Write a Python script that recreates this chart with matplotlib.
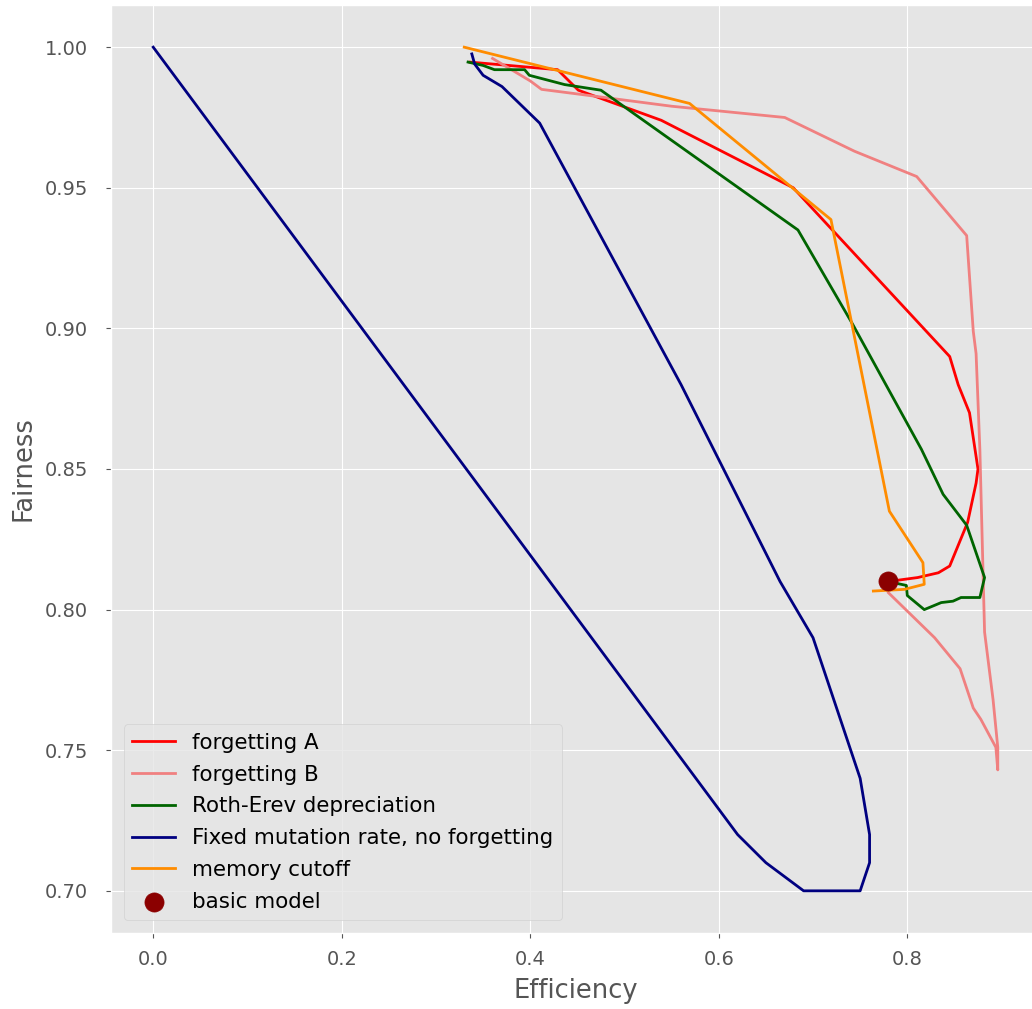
import matplotlib
matplotlib.use("Agg")
import matplotlib.pyplot as plt

plt.style.use("ggplot")

# ---- data (efficiency, fairness) ----
fa_x = [0.336, 0.429, 0.451, 0.539, 0.679, 0.845, 0.854, 0.866, 0.875, 0.873,
        0.864, 0.845, 0.833, 0.811, 0.78]
fa_y = [0.9947, 0.992, 0.9847, 0.974, 0.950, 0.890, 0.880, 0.870, 0.850, 0.845,
        0.831, 0.8155, 0.8131, 0.8114, 0.810]

fb_x = [0.36, 0.375, 0.40, 0.412, 0.447, 0.55, 0.67, 0.744, 0.81, 0.863, 0.870,
        0.873, 0.877, 0.882, 0.891, 0.896, 0.896, 0.894, 0.878, 0.870, 0.856,
        0.829, 0.78]
fb_y = [0.996, 0.993, 0.988, 0.985, 0.9835, 0.979, 0.975, 0.963, 0.954, 0.933,
        0.899, 0.891, 0.857, 0.792, 0.768, 0.751, 0.743, 0.751, 0.761, 0.765,
        0.779, 0.790, 0.806]

re_x = [0.334, 0.35, 0.362, 0.394, 0.399, 0.4365, 0.475, 0.684, 0.742, 0.815,
        0.838, 0.863, 0.882, 0.877, 0.857, 0.8485, 0.836, 0.818, 0.80, 0.799,
        0.785]
re_y = [0.9947, 0.9935, 0.992, 0.992, 0.990, 0.9867, 0.9847, 0.935, 0.9015,
        0.857, 0.841, 0.830, 0.8114, 0.8043, 0.8043, 0.803, 0.8025, 0.800,
        0.805, 0.8086, 0.8096]

fixed_x = [0.0, 0.62, 0.65, 0.69, 0.75, 0.76, 0.76, 0.75, 0.70, 0.665, 0.56,
           0.41, 0.37, 0.35, 0.341, 0.338]
fixed_y = [1.0, 0.72, 0.71, 0.70, 0.70, 0.71, 0.72, 0.74, 0.79, 0.81, 0.88,
           0.973, 0.986, 0.990, 0.994, 0.9976]

mc_x = [0.33, 0.569, 0.719, 0.781, 0.8166, 0.818, 0.797, 0.764]
mc_y = [1.0, 0.980, 0.9387, 0.835, 0.8167, 0.809, 0.8072, 0.8066]

basic_x = [0.78]
basic_y = [0.81]

# ---- figure ----
fig = plt.figure(figsize=(10.32, 10.09), dpi=100)
ax = fig.add_axes([111 / 1032, 76 / 1009, 929 / 1032, 928 / 1009])

lw = 2.0
ax.plot(fa_x, fa_y, color="red", lw=lw, label="forgetting A")
ax.plot(fb_x, fb_y, color="lightcoral", lw=lw, label="forgetting B")
ax.plot(re_x, re_y, color="darkgreen", lw=lw, label="Roth-Erev depreciation")
ax.plot(fixed_x, fixed_y, color="navy", lw=lw,
        label="Fixed mutation rate, no forgetting")
ax.plot(mc_x, mc_y, color="darkorange", lw=lw, label="memory cutoff")
ax.scatter(basic_x, basic_y, color="darkred", s=190, zorder=5,
           label="basic model")

ax.set_xlim(-0.0448, 0.9408)
ax.set_ylim(0.685, 1.015)
ax.set_xticks([0.0, 0.2, 0.4, 0.6, 0.8])
ax.set_yticks([0.70, 0.75, 0.80, 0.85, 0.90, 0.95, 1.00])
ax.tick_params(labelsize=14, length=3.5)
ax.tick_params(axis="y", pad=13)
ax.tick_params(axis="x", pad=9)
ax.set_xlabel("Efficiency", fontsize=18.5, labelpad=6)
ax.set_ylabel("Fairness", fontsize=18.5, labelpad=6)

ax.legend(loc="lower left", fontsize=15.4, handlelength=2.0,
          labelspacing=0.55, borderaxespad=0.6)

fig.savefig("out.png", dpi=100)
